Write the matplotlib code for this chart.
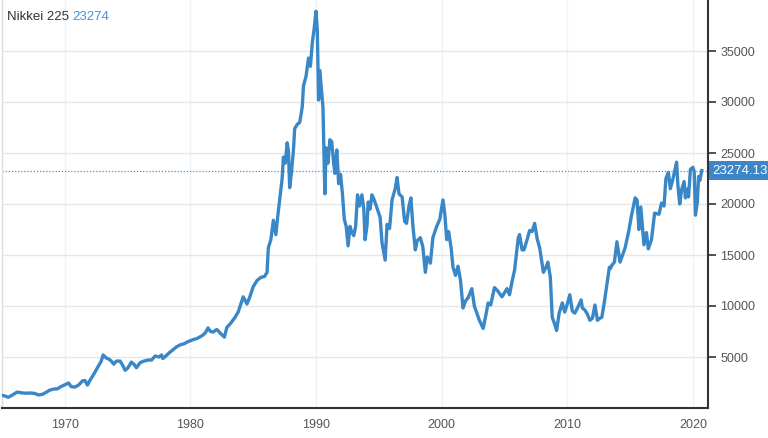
import matplotlib
matplotlib.use("Agg")
import matplotlib.pyplot as plt

plt.rcParams['font.family'] = ['Liberation Sans', 'DejaVu Sans']

# Nikkei 225 (decimal year, index level)
years = [
    1965.0, 1965.3, 1965.5, 1965.8, 1966.2, 1966.6, 1966.9, 1967.3, 1967.6, 1967.9,
    1968.2, 1968.5, 1968.8, 1969.1, 1969.4, 1969.7, 1970.0, 1970.3, 1970.5, 1970.8,
    1971.1, 1971.4, 1971.6, 1971.8, 1972.0, 1972.3, 1972.6, 1972.9, 1973.05, 1973.3,
    1973.5, 1973.7, 1973.9, 1974.1, 1974.4, 1974.6, 1974.8, 1975.0, 1975.3, 1975.5,
    1975.7, 1976.0, 1976.3, 1976.6, 1976.9, 1977.2, 1977.5, 1977.7, 1977.8, 1978.0,
    1978.3, 1978.6, 1978.9, 1979.2, 1979.5, 1979.8, 1980.2, 1980.5, 1980.8, 1981.0,
    1981.2, 1981.4, 1981.6, 1981.8, 1982.1, 1982.4, 1982.7, 1982.9, 1983.2, 1983.5,
    1983.8, 1984.2, 1984.5, 1984.7, 1985.0, 1985.3, 1985.6, 1985.9, 1986.1, 1986.2,
    1986.4, 1986.6, 1986.8, 1986.95, 1987.1, 1987.3, 1987.4, 1987.55, 1987.7, 1987.8,
    1987.9, 1988.05, 1988.2, 1988.3, 1988.5, 1988.7, 1988.9, 1989.0, 1989.2, 1989.4,
    1989.55, 1989.7, 1989.85, 1990.0, 1990.1, 1990.2, 1990.3, 1990.45, 1990.55, 1990.7,
    1990.8, 1990.95, 1991.1, 1991.25, 1991.4, 1991.5, 1991.65, 1991.8, 1991.95, 1992.1,
    1992.25, 1992.4, 1992.55, 1992.7, 1992.85, 1993.0, 1993.15, 1993.3, 1993.45, 1993.65,
    1993.8, 1993.9, 1994.05, 1994.15, 1994.3, 1994.45, 1994.6, 1994.85, 1995.1, 1995.25,
    1995.5, 1995.65, 1995.85, 1996.05, 1996.3, 1996.45, 1996.6, 1996.85, 1997.05, 1997.2,
    1997.4, 1997.55, 1997.7, 1997.9, 1998.05, 1998.3, 1998.5, 1998.7, 1998.85, 1999.1,
    1999.3, 1999.6, 1999.85, 2000.1, 2000.25, 2000.4, 2000.55, 2000.75, 2000.9, 2001.1,
    2001.3, 2001.5, 2001.7, 2001.9, 2002.1, 2002.4, 2002.6, 2002.8, 2003.0, 2003.3,
    2003.5, 2003.7, 2003.9, 2004.2, 2004.45, 2004.8, 2005.2, 2005.4, 2005.6, 2005.8,
    2006.1, 2006.2, 2006.4, 2006.55, 2006.75, 2007.0, 2007.2, 2007.4, 2007.6, 2007.8,
    2008.1, 2008.3, 2008.45, 2008.65, 2008.8, 2009.0, 2009.15, 2009.35, 2009.6, 2009.8,
    2010.0, 2010.2, 2010.4, 2010.6, 2010.85, 2011.1, 2011.2, 2011.4, 2011.6, 2011.8,
    2012.0, 2012.2, 2012.4, 2012.6, 2012.75, 2012.95, 2013.2, 2013.35, 2013.45, 2013.55,
    2013.75, 2013.95, 2014.2, 2014.4, 2014.6, 2014.9, 2015.1, 2015.4, 2015.55, 2015.7,
    2015.85, 2016.1, 2016.3, 2016.45, 2016.7, 2016.95, 2017.3, 2017.5, 2017.7, 2017.85,
    2018.05, 2018.2, 2018.4, 2018.7, 2018.8, 2018.95, 2019.1, 2019.3, 2019.4, 2019.6,
    2019.65, 2019.8, 2020.0, 2020.1, 2020.2, 2020.35, 2020.45, 2020.55, 2020.7,
]
values = [
    1250, 1150, 1050, 1250, 1560, 1480, 1450, 1470, 1430, 1280,
    1330, 1530, 1750, 1850, 1880, 2100, 2280, 2450, 2100, 2050,
    2250, 2650, 2700, 2250, 2700, 3300, 3950, 4600, 5200, 4900,
    4800, 4600, 4300, 4600, 4600, 4200, 3700, 3900, 4500, 4300,
    3950, 4450, 4600, 4700, 4700, 5100, 5000, 5200, 4850, 5050,
    5400, 5700, 6000, 6200, 6300, 6500, 6700, 6800, 7000, 7150,
    7400, 7850, 7500, 7450, 7700, 7300, 6950, 7900, 8300, 8800,
    9400, 10900, 10200, 10800, 11900, 12500, 12800, 12900, 13300, 15700,
    16500, 18400, 17000, 18800, 20400, 22500, 24600, 24000, 26000, 25200,
    21600, 23200, 25300, 27400, 27800, 28000, 29500, 31600, 32500, 34300,
    33500, 35800, 37200, 38900, 37000, 30200, 33100, 31000, 29500, 21000,
    25500, 24000, 26300, 26100, 24000, 23000, 25300, 22000, 22900, 21000,
    18500, 17800, 15900, 17800, 17200, 16900, 17800, 20900, 19800, 20900,
    19500, 16500, 17800, 20200, 19500, 20900, 20500, 19600, 18700, 16200,
    14500, 18000, 17600, 20400, 21500, 22600, 21000, 20700, 18300, 18100,
    19800, 20600, 18000, 15500, 16400, 16700, 15800, 13300, 14800, 14200,
    16700, 17800, 18500, 20400, 19000, 16500, 17300, 15700, 13800, 13000,
    13900, 12500, 9800, 10500, 10800, 11700, 10000, 9300, 8600, 7800,
    9000, 10300, 10100, 11800, 11500, 10900, 11700, 11100, 12400, 13500,
    16700, 17000, 15500, 15500, 16300, 17400, 17300, 18100, 16600, 15700,
    13300, 13800, 14300, 12800, 8900, 8200, 7600, 9300, 10300, 9400,
    10200, 11100, 9500, 9300, 9900, 10600, 9800, 9600, 9200, 8600,
    8800, 10100, 8600, 8800, 8900, 10400, 12500, 13800, 13700, 14000,
    14300, 16300, 14300, 15000, 15700, 17400, 18800, 20600, 20400, 17500,
    19700, 16000, 17200, 15600, 16500, 19100, 19000, 20100, 19800, 22500,
    23100, 21500, 22400, 24100, 21900, 20000, 21400, 22200, 20600, 21500,
    20700, 23400, 23600, 23200, 18900, 20200, 22700, 22300, 23274,
]
last_value = 23274.13
xticks = [1970, 1980, 1990, 2000, 2010, 2020]
yticks = [5000, 10000, 15000, 20000, 25000, 30000, 35000]

line_blue = '#3a87c8'

fig = plt.figure(figsize=(7.68, 4.38), dpi=100)
ax = fig.add_axes([2 / 768, 30 / 438, 706 / 768, 408 / 438])

ax.plot(years, values, color=line_blue, lw=2.4, solid_joinstyle='round', zorder=3)
ax.axhline(last_value, color='#4a90d9', lw=0.9, ls=(0, (1, 1.5)), zorder=2)

ax.set_xlim(1965.0, 2021.2)
ax.set_ylim(0, 40000)

ax.set_xticks(xticks)
ax.set_yticks(yticks)
ax.yaxis.tick_right()
ax.grid(axis='y', color='#e6e6e6', lw=1)
ax.grid(axis='x', color='#eef3f8', lw=1)
ax.tick_params(axis='x', length=0, pad=8, labelsize=9, labelcolor='#555555')
ax.tick_params(axis='y', length=6, width=1.2, color='#333333', pad=3,
               labelsize=9, labelcolor='#555555')

ax.spines['top'].set_visible(False)
ax.spines['left'].set_color('#dddddd')
ax.spines['left'].set_linewidth(1)
ax.spines['right'].set_color('#333333')
ax.spines['right'].set_linewidth(1.5)
ax.spines['bottom'].set_color('#333333')
ax.spines['bottom'].set_linewidth(1.5)

# label box with the current value on the right axis
ax.annotate(f'{last_value:.2f}', xy=(1.0, last_value), xycoords=('axes fraction', 'data'),
            xytext=(3, 0), textcoords='offset points', ha='left', va='center',
            fontsize=9.5, color='white',
            bbox=dict(boxstyle='square,pad=0.25', fc='#3d85c6', ec='none'),
            annotation_clip=False)

title = fig.text(7 / 768, 1 - 17 / 438, 'Nikkei 225 ', fontsize=9.5, color='#333333', va='center')
fig.canvas.draw()
bb = title.get_window_extent()
fig.text(bb.x1 / 768, 1 - 17 / 438, f'{last_value:.0f}', fontsize=9.5, color='#4a90d9', va='center')

fig.savefig('out.png', dpi=100)
